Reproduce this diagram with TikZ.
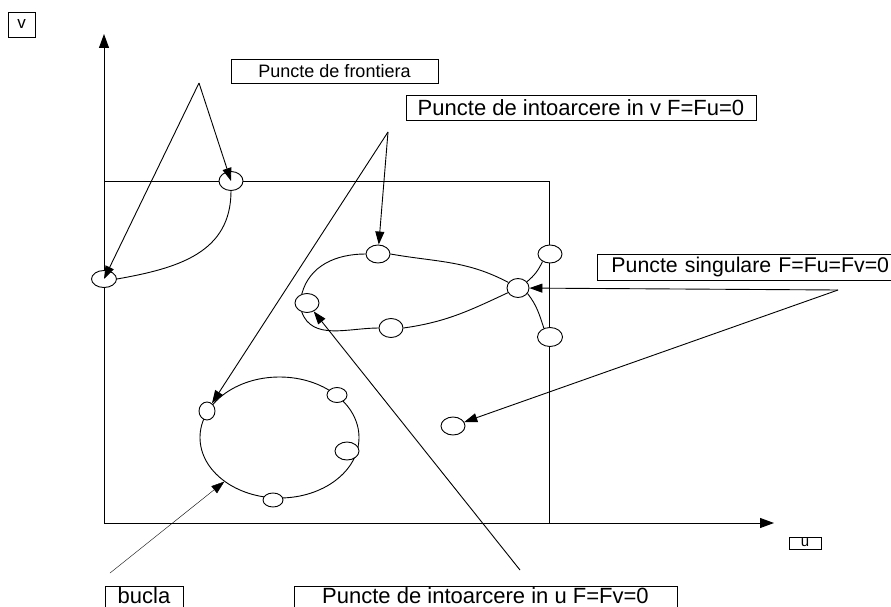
\documentclass[tikz,border=0pt]{standalone}
\usepackage{fontspec}
\setmainfont{Liberation Sans}
\usetikzlibrary{arrows.meta,shapes.geometric}
\pgfdeclarelayer{bg}
\pgfsetlayers{bg,main}
\begin{document}
\begin{tikzpicture}[x=1pt,y=1pt,line width=0.9pt,
  pnt/.style n args={2}{ellipse,draw,fill=white,inner sep=0pt,minimum width=#1,minimum height=#2},
  lbl/.style={draw,inner sep=0pt,font=\fontsize{22}{24}\selectfont},
  lowbox/.style={lbl,anchor=base,text height=15pt,text depth=7pt,inner ysep=2pt},
  arr/.style={-{Triangle[length=13pt,width=9pt]}},
  axarr/.style={-{Triangle[length=14pt,width=10pt]}}]
\clip (0,0) rectangle (891,-607);
\fill[white] (0,0) rectangle (891,-607);

% axes and the boundary of the domain
\coordinate (O) at (104,-523);
\coordinate (vtip) at (104,-34);
\coordinate (utip) at (774,-523);
\coordinate (cTL) at (104,-181);
\coordinate (cTR) at (549,-181);
\coordinate (cBR) at (549,-523);
\draw[axarr] (O) -- (vtip);
\draw[axarr] (O) -- (utip);
\draw (cTL) -- (cTR) -- (cBR);

% axis labels
\node[draw,minimum width=27pt,minimum height=25pt,inner sep=0pt,font=\fontsize{17}{20}\selectfont] (vlab) at (21.5,-24.5) {v};
\node[draw,minimum width=32pt,minimum height=12pt,inner sep=0pt,font=\fontsize{15}{16}\selectfont] (ulab) at (805,-543) {u};

% text boxes
\node[lbl,minimum width=207pt,minimum height=24pt,font=\fontsize{18}{20}\selectfont] (front) at (334.5,-71) {Puncte de frontiera};
\node[lbl,minimum width=350pt,minimum height=25pt] (intv) at (581,-107.5) {Puncte de intoarcere in v F=Fu=0};
\node[lbl,anchor=west,text width=290pt,inner xsep=14pt,minimum height=26pt,align=left,font=\fontsize{21.3}{24}\selectfont] (sing) at (597,-267) {Puncte singulare F=Fu=Fv=0};
\node[lowbox,minimum width=383pt] (intu) at (485.5,-603) {Puncte de intoarcere in u F=Fv=0};
\node[lowbox,minimum width=78pt] (bucla) at (144,-603) {bucla};

% the closed curve
\node[ellipse,draw,inner sep=0pt,minimum width=159pt,minimum height=121pt] (cerc) at (279.5,-437.5) {};

% marked points
\node[pnt={24pt}{19pt}] (fa) at (231,-181) {};
\node[pnt={25pt}{17pt}] (fb) at (104,-279) {};
\node[pnt={24pt}{18pt}] (top) at (378,-254) {};
\node[pnt={24pt}{19pt}] (lt) at (307,-303) {};
\node[pnt={24pt}{19pt}] (bt) at (391,-328) {};
\node[pnt={22pt}{19pt}] (sg) at (518,-288) {};
\node[pnt={24pt}{18pt}] (rt) at (550,-254) {};
\node[pnt={25pt}{19pt}] (rb) at (550,-337) {};
\node[pnt={24pt}{18pt}] (iso) at (453,-426) {};
\node[pnt={16pt}{18pt}] (cl) at (207,-411) {};
\node[pnt={20pt}{15pt}] (ctr) at (337,-395) {};
\node[pnt={24pt}{18pt}] (cr) at (347,-451) {};
\node[pnt={20pt}{14pt}] (cb) at (273,-500) {};

% boundary arc
\draw (fa.south) to[out=-90,in=10,looseness=1.1] (fb.east);

% loop with a double point
\draw (top.west) to[out=180,in=75] (lt.120);
\draw (lt.240) to[out=-70,in=180] (bt.west);
\draw (bt.east) to[out=8,in=205] (sg.205);
\draw (sg.35) to[out=40,in=245] (rt.225);
\draw (rb.125) to[out=108,in=-52] (sg.-30);
\draw (sg.150) to[out=152,in=-10] (top.east);

% pointer origins
\coordinate (apF) at (199,-83);
\coordinate (apV) at (388,-132);
\coordinate (apS) at (838,-290);
\coordinate (apU) at (520,-570);
\coordinate (apB) at (110,-573);

\draw[arr] (apF) -- (fa.center);
\draw[arr] (apF) -- (fb.center);
\draw[arr] (apV) -- (top);
\draw[arr] (apV) -- (cl);
\draw[arr] (apS) -- (sg);
\draw[arr] (apS) -- (iso);
\draw[arr] (apU) -- (lt);
\begin{pgfonlayer}{bg}
\draw[arr] (apU) -- (cb.center);
\end{pgfonlayer}
\draw[arr] (apB) -- (cerc);
\end{tikzpicture}
\end{document}
